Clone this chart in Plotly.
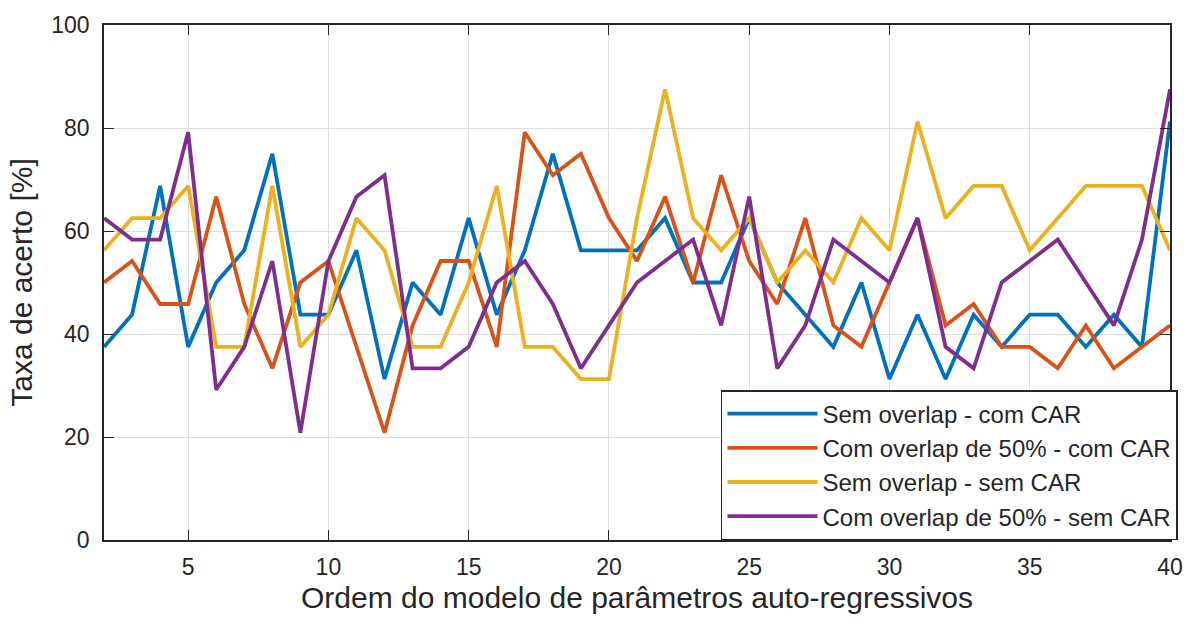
import plotly.graph_objects as go

orders = list(range(2, 41))

sem_overlap_com_car = [37.5, 43.75, 68.75, 37.5, 50, 56.25, 75, 43.75, 43.75, 56.25,
                       31.25, 50, 43.75, 62.5, 43.75, 56.25, 75, 56.25, 56.25, 56.25,
                       62.5, 50, 50, 62.5, 50, 43.75, 37.5, 50, 31.25, 43.75,
                       31.25, 43.75, 37.5, 43.75, 43.75, 37.5, 43.75, 37.5, 81.25]

com_overlap_com_car = [50, 54.17, 45.83, 45.83, 66.67, 45.83, 33.33, 50, 54.17, 37.5,
                       20.83, 41.67, 54.17, 54.17, 37.5, 79.17, 70.83, 75, 62.5, 54.17,
                       66.67, 50, 70.83, 54.17, 45.83, 62.5, 41.67, 37.5, 50, 62.5,
                       41.67, 45.83, 37.5, 37.5, 33.33, 41.67, 33.33, 37.5, 41.67]

sem_overlap_sem_car = [56.25, 62.5, 62.5, 68.75, 37.5, 37.5, 68.75, 37.5, 43.75, 62.5,
                       56.25, 37.5, 37.5, 50, 68.75, 37.5, 37.5, 31.25, 31.25, 62.5,
                       87.5, 62.5, 56.25, 62.5, 50, 56.25, 50, 62.5, 56.25, 81.25,
                       62.5, 68.75, 68.75, 56.25, 62.5, 68.75, 68.75, 68.75, 56.25]

com_overlap_sem_car = [62.5, 58.33, 58.33, 79.17, 29.17, 37.5, 54.17, 20.83, 54.17, 66.67,
                       70.83, 33.33, 33.33, 37.5, 50, 54.17, 45.83, 33.33, 41.67, 50,
                       54.17, 58.33, 41.67, 66.67, 33.33, 41.67, 58.33, 54.17, 50, 62.5,
                       37.5, 33.33, 50, 54.17, 58.33, 50, 41.67, 58.33, 87.5]

series_names = ["Sem overlap - com CAR", "Com overlap de 50% - com CAR",
                "Sem overlap - sem CAR", "Com overlap de 50% - sem CAR"]
series_values = [sem_overlap_com_car, com_overlap_com_car,
                 sem_overlap_sem_car, com_overlap_sem_car]
colors = ["#0072BD", "#D95319", "#EDB120", "#7E2F8E"]

x_ticks = [5, 10, 15, 20, 25, 30, 35, 40]
y_ticks = [0, 20, 40, 60, 80, 100]

fig = go.Figure()
for name, vals, col in zip(series_names, series_values, colors):
    fig.add_trace(go.Scatter(x=orders, y=vals, mode="lines", name=name,
                             line=dict(color=col, width=3.8)))

axis_common = dict(
    showgrid=True, gridcolor="#dedede", gridwidth=1,
    ticks="inside", ticklen=10, tickwidth=1.2, tickcolor="#262626",
    showline=True, linecolor="#262626", linewidth=1.5, mirror="ticks",
    zeroline=False, tickfont=dict(size=23, color="#262626"),
)

fig.update_layout(
    width=1195, height=624,
    margin=dict(l=104, r=17, t=17, b=84),
    paper_bgcolor="white", plot_bgcolor="white",
    font=dict(family="Liberation Sans, Arial, sans-serif", size=23, color="#262626"),
    xaxis=dict(range=[2, 40], tickvals=x_ticks, ticklabelstandoff=6,
               title=dict(text="Ordem do modelo de parâmetros auto-regressivos",
                          font=dict(size=30), standoff=8),
               **axis_common),
    yaxis=dict(range=[0, 100], tickvals=y_ticks, ticklabelstandoff=8,
               title=dict(text="Taxa de acerto [%]", font=dict(size=30), standoff=10),
               **axis_common),
    legend=dict(x=1.0075, y=0, xanchor="right", yanchor="bottom",
                bgcolor="white", bordercolor="#262626", borderwidth=1.5,
                font=dict(size=24, color="#262626"), itemwidth=90,
                tracegroupgap=0),
    showlegend=True,
)

fig.write_html("out.html")
